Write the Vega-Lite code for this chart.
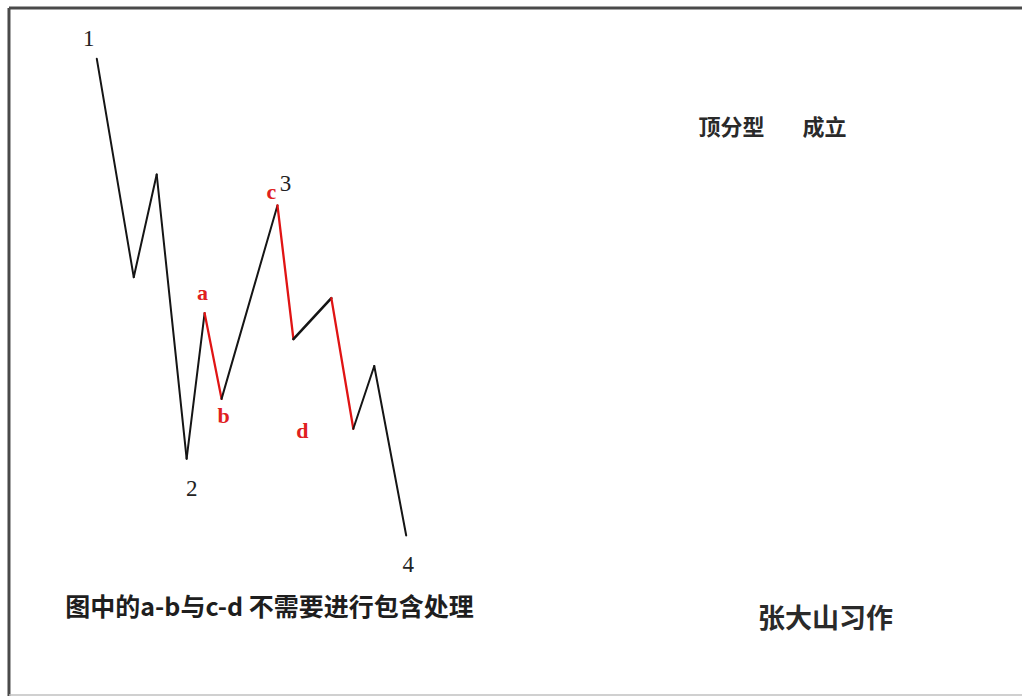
{
  "$schema": "https://vega.github.io/schema/vega-lite/v6.json",
  "width": 1024,
  "height": 698,
  "padding": 0,
  "autosize": {"type": "fit", "contains": "padding"},
  "background": "#ffffff",
  "config": {"view": {"stroke": null}},
  "datasets": {
    "frame": [
      {"x": 9, "y": 8, "x2": 1024, "y2": 8, "edge": "dark"},
      {"x": 9, "y": 8, "x2": 9, "y2": 698, "edge": "dark"},
      {"x": 9, "y": 697, "x2": 1024, "y2": 697, "edge": "light"}
    ],
    "wave": [
      {"x": 97, "y": 59, "x2": 134, "y2": 278, "leg": "black"},
      {"x": 134, "y": 278, "x2": 157, "y2": 175, "leg": "black"},
      {"x": 157, "y": 175, "x2": 187, "y2": 460, "leg": "black"},
      {"x": 187, "y": 460, "x2": 205, "y2": 314, "leg": "black"},
      {"x": 205, "y": 314, "x2": 222, "y2": 400, "leg": "red"},
      {"x": 222, "y": 400, "x2": 278, "y2": 206, "leg": "black"},
      {"x": 278, "y": 206, "x2": 294, "y2": 340, "leg": "red"},
      {"x": 294, "y": 340, "x2": 332, "y2": 299, "leg": "bold"},
      {"x": 332, "y": 299, "x2": 354, "y2": 430, "leg": "red"},
      {"x": 354, "y": 430, "x2": 375, "y2": 367, "leg": "black"},
      {"x": 375, "y": 367, "x2": 407, "y2": 537, "leg": "black"}
    ],
    "nums": [
      {"x": 89, "y": 39, "label": "1"},
      {"x": 192, "y": 490, "label": "2"},
      {"x": 286, "y": 185, "label": "3"},
      {"x": 409, "y": 567, "label": "4"}
    ],
    "letters": [
      {"x": 203, "y": 294, "label": "a"},
      {"x": 224, "y": 417, "label": "b"},
      {"x": 272, "y": 193, "label": "c"},
      {"x": 303, "y": 432, "label": "d"}
    ],
    "notes": [
      {"x": 733, "y": 128, "label": "顶分型", "kind": "title"},
      {"x": 826, "y": 128, "label": "成立", "kind": "title"},
      {"x": 270, "y": 610, "label": "图中的a-b与c-d 不需要进行包含处理", "kind": "note"},
      {"x": 827, "y": 622, "label": "张大山习作", "kind": "sign"}
    ]
  },
  "resolve": {"scale": {"color": "independent", "strokeWidth": "independent"}},
  "layer": [
    {
      "data": {"name": "frame"},
      "mark": {"type": "rule"},
      "encoding": {
        "x": {"field": "x", "type": "quantitative", "scale": {"domain": [0, 1024], "nice": false, "zero": false}, "axis": null},
        "y": {"field": "y", "type": "quantitative", "scale": {"domain": [0, 698], "nice": false, "zero": false, "reverse": true}, "axis": null},
        "x2": {"field": "x2"},
        "y2": {"field": "y2"},
        "color": {"field": "edge", "type": "nominal", "scale": {"domain": ["dark", "light"], "range": ["#4a4a4a", "#c0c0c0"]}, "legend": null},
        "strokeWidth": {"field": "edge", "type": "nominal", "scale": {"domain": ["dark", "light"], "range": [3, 1.5]}, "legend": null}
      }
    },
    {
      "data": {"name": "wave"},
      "mark": {"type": "rule", "strokeCap": "round"},
      "encoding": {
        "x": {"field": "x", "type": "quantitative"},
        "y": {"field": "y", "type": "quantitative"},
        "x2": {"field": "x2"},
        "y2": {"field": "y2"},
        "color": {"field": "leg", "type": "nominal", "scale": {"domain": ["black", "red", "bold"], "range": ["#151515", "#e01414", "#151515"]}, "legend": null},
        "strokeWidth": {"field": "leg", "type": "nominal", "scale": {"domain": ["black", "red", "bold"], "range": [2, 2.6, 3.6]}, "legend": null}
      }
    },
    {
      "data": {"name": "nums"},
      "mark": {"type": "text", "font": "Liberation Serif", "fontSize": 23, "color": "#222222", "baseline": "middle", "align": "center"},
      "encoding": {
        "x": {"field": "x", "type": "quantitative"},
        "y": {"field": "y", "type": "quantitative"},
        "text": {"field": "label"}
      }
    },
    {
      "data": {"name": "letters"},
      "mark": {"type": "text", "font": "Liberation Serif", "fontSize": 22, "fontWeight": "bold", "color": "#e02020", "baseline": "middle", "align": "center"},
      "encoding": {
        "x": {"field": "x", "type": "quantitative"},
        "y": {"field": "y", "type": "quantitative"},
        "text": {"field": "label"}
      }
    },
    {
      "data": {"name": "notes"},
      "transform": [{"filter": "datum.kind === 'title'"}],
      "mark": {"type": "text", "font": "Noto Sans CJK SC", "fontSize": 22, "fontWeight": "bold", "color": "#2a2a2a", "baseline": "middle", "align": "center"},
      "encoding": {
        "x": {"field": "x", "type": "quantitative"},
        "y": {"field": "y", "type": "quantitative"},
        "text": {"field": "label"}
      }
    },
    {
      "data": {"name": "notes"},
      "transform": [{"filter": "datum.kind === 'note'"}],
      "mark": {"type": "text", "font": "Noto Sans CJK SC", "fontSize": 25, "fontWeight": "bold", "color": "#1e1e1e", "baseline": "middle", "align": "center"},
      "encoding": {
        "x": {"field": "x", "type": "quantitative"},
        "y": {"field": "y", "type": "quantitative"},
        "text": {"field": "label"}
      }
    },
    {
      "data": {"name": "notes"},
      "transform": [{"filter": "datum.kind === 'sign'"}],
      "mark": {"type": "text", "font": "Noto Sans CJK SC", "fontSize": 27, "fontWeight": "bold", "color": "#2a2a2a", "baseline": "middle", "align": "center"},
      "encoding": {
        "x": {"field": "x", "type": "quantitative"},
        "y": {"field": "y", "type": "quantitative"},
        "text": {"field": "label"}
      }
    }
  ]
}
